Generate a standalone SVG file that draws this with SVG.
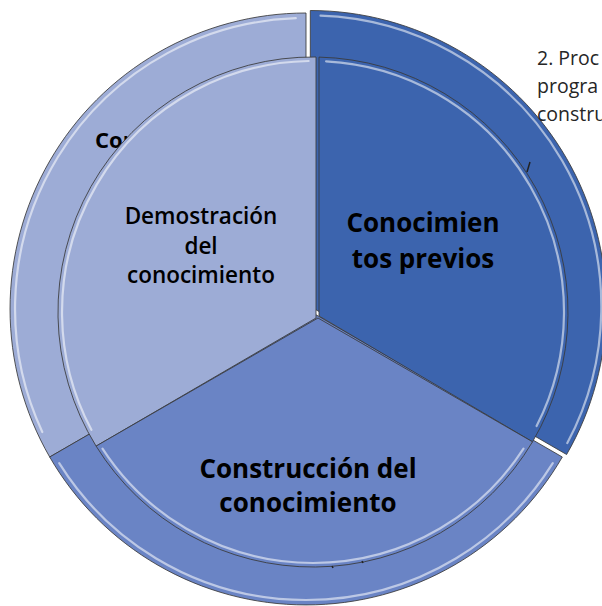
<svg xmlns="http://www.w3.org/2000/svg" width="602" height="606" viewBox="0 0 602 606">
<style>
.sec{stroke:#3a3a3a;stroke-width:1;stroke-opacity:0.85;stroke-linejoin:round}
.light{fill:#9DACD6}
.mid{fill:#6A84C5}
.dark{fill:#3C64AE}
.hl{fill:none;stroke:#ffffff;stroke-width:2.2;stroke-opacity:0.55;stroke-linecap:round;filter:url(#soft)}
.lbl{font-family:"Open Sans","Noto Sans","Liberation Sans",sans-serif;fill:#000;text-anchor:middle}
.side{font-family:"Open Sans","Noto Sans","Liberation Sans",sans-serif;fill:#262626;font-size:19.5px}
</style>
<defs>
  <filter id="soft" x="-5%" y="-5%" width="110%" height="110%"><feGaussianBlur stdDeviation="0.6"/></filter>
</defs>
<rect width="602" height="606" fill="#ffffff"/>
<g id="outer-ring">
  <g id="outer-dark">
    <path class="sec dark" d="M310.3,306.5 L310.3,10.5 A296,296 0 0 1 566.6,454.5 Z"/>
    <path class="hl" d="M320.5,15.7 A291,291 0 0 1 567.3,443.1"/>
  </g>
  <g id="outer-light">
    <path class="sec light" d="M306,309 L49.7,457 A296,296 0 0 1 306,13 Z"/>
    <path class="hl" d="M42.3,432 A291,291 0 0 1 295.8,18.2"/>
    <path class="hl" d="M302,19 L302,60"/>
  </g>
  <g id="outer-mid">
    <path class="sec mid" d="M306,309 L562.3,457 A296,296 0 0 1 49.7,457 Z"/>
    <path class="hl" stroke-opacity="0.35" d="M552.8,463.2 A291,291 0 0 1 59.2,463.2"/>
  </g>
  <text class="lbl" x="95" y="148" font-size="22" font-weight="700" style="text-anchor:start">Con</text>
</g>
<g id="inner-pie">
  <g id="node-conocimientos-previos">
    <path class="sec dark" d="M319,316 L319,57.1 A255,255 0 0 1 532.5,441.8 Z"/>
    <path class="hl" d="M326.1,61.3 A251,251 0 0 1 536.6,426"/>
    <text class="lbl" font-size="26" font-weight="700"><tspan x="423" y="232">Conocimien</tspan><tspan x="423" y="268">tos previos</tspan></text>
  </g>
  <g id="node-demostracion">
    <path class="sec light" d="M316,318 L96.1,446.1 A255,255 0 0 1 316,57 Z"/>
    <path class="hl" d="M91.4,429.8 A251,251 0 0 1 308.6,61"/>
    <path class="hl" d="M312.5,62 L312.5,312"/>
    <text class="lbl" font-size="22.5" font-weight="600"><tspan x="201" y="224">Demostración</tspan><tspan x="201" y="254">del</tspan><tspan x="201" y="283">conocimiento</tspan></text>
  </g>
  <g id="node-construccion">
    <path class="sec mid" d="M318,318 L532.5,441.8 A255,255 0 0 1 96.1,446.1 Z"/>
    <path class="hl" stroke-opacity="0.4" d="M523.5,448.7 A251,251 0 0 1 102.5,448.7"/>
    <text class="lbl" font-size="26" font-weight="700"><tspan x="308" y="478">Construcción del</tspan><tspan x="308" y="512">conocimiento</tspan></text>
  </g>
</g>
<g id="connectors"></g>
<g id="marks" stroke="#222" stroke-width="1.5" fill="none">
  <path d="M530,162 L527,172"/>
  <path d="M332,566 L333,568"/>
  <path d="M362,561 L363,563"/>
</g>
<g id="side-text">
  <text class="side" x="537" y="65">2. Proc</text>
  <text class="side" x="537" y="93">progra</text>
  <text class="side" x="537" y="121">constru</text>
</g>
</svg>
